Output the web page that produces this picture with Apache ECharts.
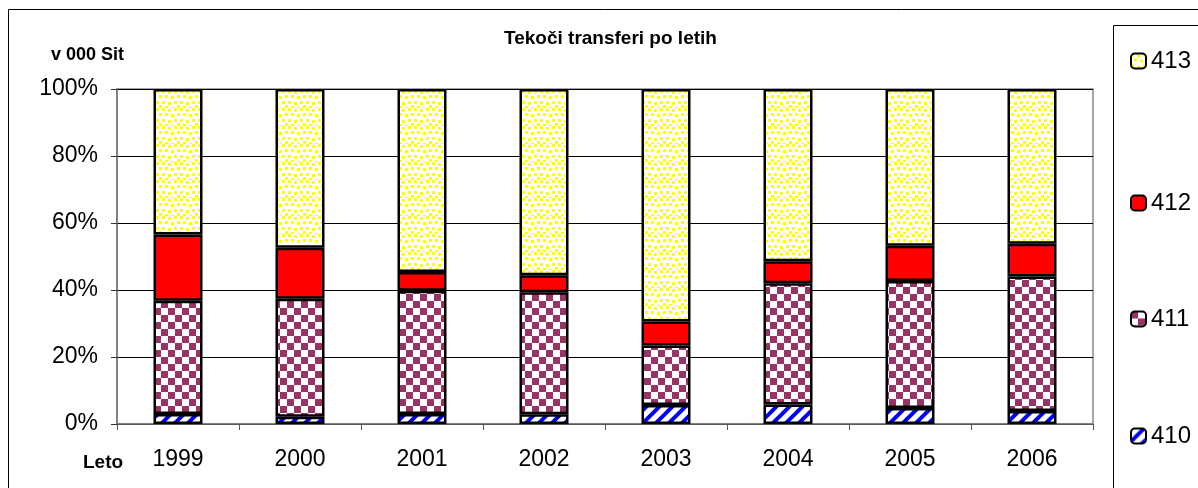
<!DOCTYPE html>
<html><head><meta charset="utf-8">
<script src="https://cdn.jsdelivr.net/npm/echarts@6/dist/echarts.min.js"></script>
<style>html,body{margin:0;padding:0;background:#fff}#c{width:1198px;height:488px}</style>
</head><body><div id="c"></div>
<script>
var categories = ['1999','2000','2001','2002','2003','2004','2005','2006'];
var s410 = [3.0, 2.2, 3.0, 2.9, 5.7, 5.8, 4.8, 3.9];
var s411 = [33.8, 35.2, 36.8, 36.4, 17.7, 36.2, 37.9, 40.1];
var s412 = [19.8, 15.2, 5.6, 5.1, 7.2, 6.6, 10.5, 9.8];
var s413 = [43.4, 47.4, 54.6, 55.6, 69.4, 51.4, 46.8, 46.2];
var yTicks = [0, 20, 40, 60, 80, 100];
var seriesNames = ['410', '411', '412', '413'];

function tile(w, h, draw) {
  var c = document.createElement('canvas'); c.width = w; c.height = h;
  var g = c.getContext('2d'); g.fillStyle = '#fff'; g.fillRect(0, 0, w, h); draw(g);
  return { image: c, repeat: 'repeat' };
}
var patDots = tile(18, 18, function (g) {
  g.fillStyle = '#ffff00';
  [[0,0],[6,1],[12,0],[3,5],[9,6],[15,5],[0,11],[6,12],[12,11],[3,16],[9,17],[15,15]].forEach(function (p) { g.fillRect(p[0], p[1], 3, 3); });
});
var patCheck = tile(14, 14, function (g) {
  g.fillStyle = '#993366'; g.fillRect(0, 0, 7, 7); g.fillRect(7, 7, 7, 7);
});
var patStripe = tile(13, 13, function (g) {
  g.strokeStyle = '#0000ff'; g.lineWidth = 4;
  [-13, 0, 13].forEach(function (o) {
    g.beginPath(); g.moveTo(o - 3, 16); g.lineTo(o + 16, -3); g.stroke();
  });
});
var fills = [patStripe, patCheck, '#ff0000', patDots];
var datas = [s410, s411, s412, s413];

var chart = echarts.init(document.getElementById('c'), null, { renderer: 'canvas' });
var FONT = 'Liberation Sans';
var legendTops = [431, 314, 198, 56];
chart.setOption({
  animation: false,
  textStyle: { fontFamily: FONT },
  title: [
    { text: 'Tekoči transferi po letih', left: 499, top: 24, textStyle: { fontFamily: FONT, fontSize: 19, fontWeight: 'bold', color: '#000' } },
    { text: 'v 000 Sit', left: 46, top: 41, textStyle: { fontFamily: FONT, fontSize: 18, fontWeight: 'bold', color: '#000' } },
    { text: 'Leto', left: 78, top: 448, textStyle: { fontFamily: FONT, fontSize: 19, fontWeight: 'bold', color: '#000' } }
  ],
  legend: seriesNames.map(function (n, i) {
    return {
      data: [n], orient: 'vertical', left: 1125, top: legendTops[i] - 12,
      itemWidth: 15, itemHeight: 15, itemGap: 4,
      textStyle: { fontFamily: FONT, fontSize: 24, color: '#000', padding: [0, 0, 0, 0] },
      selectedMode: false
    };
  }),
  grid: { left: 117, right: 105, top: 89, bottom: 64, show: true, borderColor: '#888', borderWidth: 1.5, containLabel: false },
  xAxis: {
    type: 'category', data: categories, boundaryGap: true,
    axisLine: { lineStyle: { color: '#777', width: 1.5 } },
    axisTick: { show: true, length: 6, lineStyle: { color: '#555' } },
    axisLabel: { fontFamily: FONT, fontSize: 23, color: '#000', margin: 24 }
  },
  yAxis: {
    type: 'value', min: yTicks[0], max: yTicks[yTicks.length - 1], interval: 20,
    axisLine: { show: true, lineStyle: { color: '#777', width: 1.5 } },
    axisTick: { show: true, length: 6, lineStyle: { color: '#333' } },
    axisLabel: { fontFamily: FONT, fontSize: 23, color: '#000', margin: 19, formatter: '{value}%' },
    splitLine: { show: true, lineStyle: { color: '#000', width: 1 } }
  },
  graphic: [
    { type: 'rect', shape: { x: 8.5, y: 9.5, width: 1300, height: 600 }, style: { fill: 'none', stroke: '#000', lineWidth: 1 }, silent: true },
    { type: 'rect', shape: { x: 1113.5, y: 25.5, width: 200, height: 600 }, style: { fill: 'none', stroke: '#000', lineWidth: 1 }, silent: true }
  ],
  series: seriesNames.map(function (n, i) {
    return {
      name: n, type: 'bar', stack: 'total', data: datas[i], barWidth: 49,
      itemStyle: { color: fills[i], borderColor: '#000', borderWidth: 2.5 }
    };
  })
});
</script></body></html>
